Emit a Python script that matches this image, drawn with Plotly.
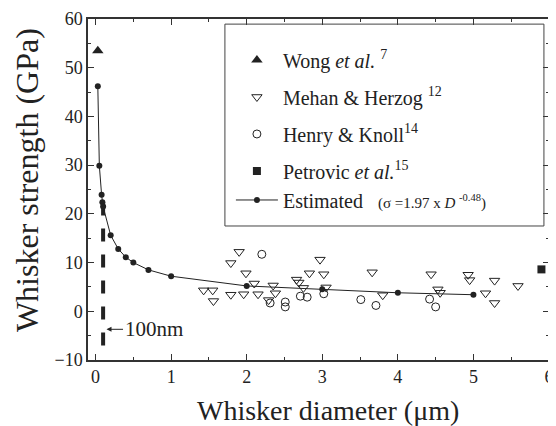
import plotly.graph_objects as go

# values
wong_d = [0.03]
wong_s = [53.5]

mehan_d = [1.43, 1.55, 1.56, 1.79, 1.79, 1.90, 1.96, 1.99, 2.10, 2.15, 2.29, 2.35, 2.38,
           2.66, 2.69, 2.75, 2.83, 2.97, 3.02, 3.05, 3.66, 3.80, 4.44, 4.53, 4.56, 4.93,
           4.95, 5.16, 5.28, 5.28, 5.59]
mehan_s = [4.3, 4.3, 2.1, 9.9, 3.4, 12.2, 3.5, 7.8, 5.7, 3.5, 2.3, 5.3, 3.7,
           6.5, 5.9, 4.8, 7.8, 10.6, 7.6, 4.9, 8.0, 3.3, 7.6, 4.5, 3.8, 7.5,
           6.4, 3.7, 6.3, 1.7, 5.2]

henry_d = [2.20, 2.31, 2.51, 2.51, 2.71, 2.80, 3.02, 3.51, 3.71, 4.42, 4.50]
henry_s = [11.7, 1.7, 1.9, 0.9, 3.1, 2.9, 3.6, 2.4, 1.2, 2.5, 0.9]

petrovic_d = [5.9]
petrovic_s = [8.6]

est_d = [0.03, 0.05, 0.08, 0.09, 0.1, 0.2, 0.3, 0.4, 0.5, 0.7, 1, 2, 3, 4, 5]
est_s = [46.2, 29.9, 23.9, 22.4, 21.5, 15.6, 12.8, 11.1, 10.0, 8.5, 7.2, 5.2, 4.5, 3.8, 3.4]

# 100 nm marker line
nm_d = [0.1, 0.1]
nm_s = [-7, 23]

ink = "#222222"
serif = "Liberation Serif"
nb = "\u00a0"

fig = go.Figure()

fig.add_trace(go.Scatter(
    x=nm_d, y=nm_s, mode="lines", showlegend=False, hoverinfo="skip",
    line=dict(color=ink, width=4, dash="13px,13px")
))

fig.add_trace(go.Scatter(
    x=wong_d, y=wong_s, mode="markers", name="Wong <i>et al.</i> <sup>7</sup>",
    legendgroup="a",
    marker=dict(symbol="triangle-up", size=10, color=ink)
))
fig.add_trace(go.Scatter(
    x=mehan_d, y=mehan_s, mode="markers", name="Mehan &amp; Herzog <sup>12</sup>",
    legendgroup="b",
    marker=dict(symbol="triangle-down-open", size=9, color=ink, line=dict(width=1))
))
fig.add_trace(go.Scatter(
    x=henry_d, y=henry_s, mode="markers", name="Henry &amp; Knoll<sup>14</sup>",
    legendgroup="c",
    marker=dict(symbol="circle-open", size=8, color=ink, line=dict(width=1))
))
fig.add_trace(go.Scatter(
    x=petrovic_d, y=petrovic_s, mode="markers", name="Petrovic <i>et al.</i><sup>15</sup>",
    legendgroup="d",
    marker=dict(symbol="square", size=8, color=ink)
))
fig.add_trace(go.Scatter(
    x=est_d, y=est_s, mode="lines+markers",
    name="Estimated" + nb * 3 + "<span style='font-size:15px'>(σ =1.97 x <i>D</i> <sup>-0.48</sup>)</span>",
    legendgroup="d",
    line=dict(color=ink, width=1),
    marker=dict(symbol="circle", size=6, color=ink)
))

axis_common = dict(
    showline=True, linecolor="#333333", linewidth=1.5, mirror="ticks",
    ticks="inside", ticklen=6, tickwidth=1, tickcolor="#333333",
    showgrid=False, zeroline=False, automargin=False, ticklabeloverflow="allow",
    tickfont=dict(family=serif, size=18, color=ink),
)

fig.update_xaxes(
    range=[-0.1, 6], dtick=1, tick0=0,
    minor=dict(dtick=0.5, ticks="inside", ticklen=3.5, tickcolor="#333333", showgrid=False),
    **axis_common
)
fig.update_yaxes(
    range=[-10, 60], dtick=10, tick0=0,
    minor=dict(dtick=5, ticks="inside", ticklen=3.5, tickcolor="#333333", showgrid=False),
    **axis_common
)

# axis titles placed by hand, both sit a little off the axis middle
fig.add_annotation(
    text="Whisker diameter (μm)", showarrow=False,
    xref="paper", yref="paper", x=0.521, y=-0.147, xanchor="center", yanchor="middle",
    font=dict(family=serif, size=28, color=ink)
)
fig.add_annotation(
    text="Whisker strength (GPa)", textangle=-90, showarrow=False,
    xref="paper", yref="paper", x=-0.132, y=0.528, xanchor="center", yanchor="middle",
    font=dict(family=serif, size=32, color=ink)
)

# legend frame
fig.add_shape(type="rect", xref="paper", yref="paper",
              x0=0.297, x1=0.989, y0=0.393, y1=0.985,
              line=dict(color="#444444", width=1), fillcolor="rgba(0,0,0,0)")

fig.add_annotation(
    x=0.145, y=-3.7, xref="x", yref="y", text="100nm",
    showarrow=True, arrowhead=2, arrowsize=1, arrowwidth=1, arrowcolor=ink,
    ax=47, ay=0, font=dict(family=serif, size=21, color=ink)
)

# the page body keeps an 8px margin, so the figure is 8px smaller each way
fig.update_layout(
    width=548, height=418,
    margin=dict(l=80, r=7, t=11, b=66),
    paper_bgcolor="white", plot_bgcolor="white",
    font=dict(family=serif, color=ink),
    showlegend=True,
    legend=dict(
        x=0.31, y=0.937, xanchor="left", yanchor="top",
        bgcolor="rgba(0,0,0,0)", borderwidth=0,
        font=dict(family=serif, size=20, color=ink),
        itemwidth=42, tracegroupgap=8,
    ),
)

fig.write_html("out.html")
